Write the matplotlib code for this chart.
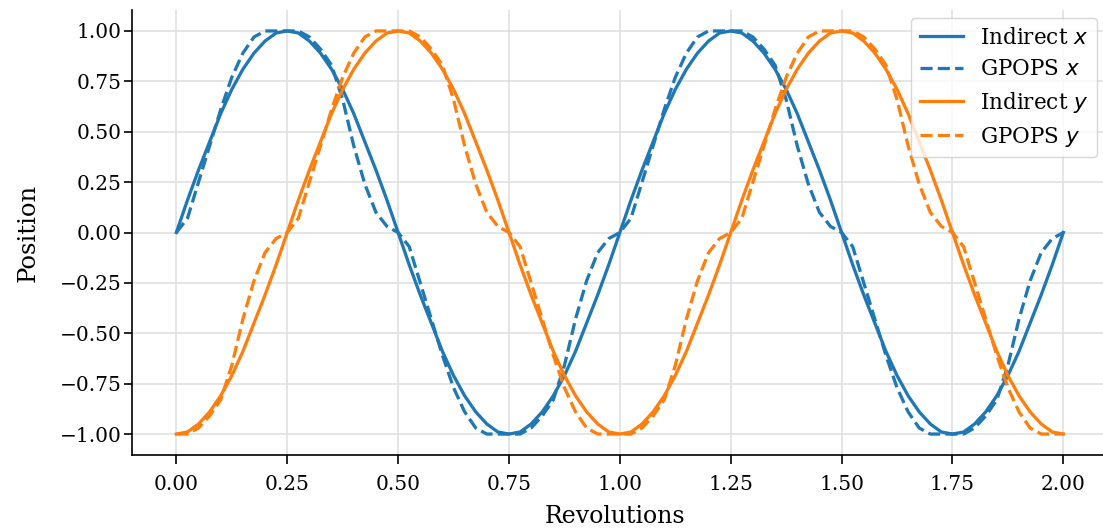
import numpy as np
import matplotlib
matplotlib.use("Agg")
import matplotlib.pyplot as plt

# Time samples (revolutions)
revolutions = [i / 40 for i in range(81)]

indirect_x = [
    0.00, 0.16, 0.31, 0.45, 0.59, 0.71, 0.81, 0.89, 0.95, 0.99,
    1.00, 0.99, 0.95, 0.89, 0.81, 0.71, 0.59, 0.45, 0.31, 0.16,
    0.00, -0.16, -0.31, -0.45, -0.59, -0.71, -0.81, -0.89, -0.95, -0.99,
    -1.00, -0.99, -0.95, -0.89, -0.81, -0.71, -0.59, -0.45, -0.31, -0.16,
    0.00, 0.16, 0.31, 0.45, 0.59, 0.71, 0.81, 0.89, 0.95, 0.99,
    1.00, 0.99, 0.95, 0.89, 0.81, 0.71, 0.59, 0.45, 0.31, 0.16,
    0.00, -0.16, -0.31, -0.45, -0.59, -0.71, -0.81, -0.89, -0.95, -0.99,
    -1.00, -0.99, -0.95, -0.89, -0.81, -0.71, -0.59, -0.45, -0.31, -0.16,
    0.00,
]

indirect_y = [
    -1.00, -0.99, -0.95, -0.89, -0.81, -0.71, -0.59, -0.45, -0.31, -0.16,
    0.00, 0.16, 0.31, 0.45, 0.59, 0.71, 0.81, 0.89, 0.95, 0.99,
    1.00, 0.99, 0.95, 0.89, 0.81, 0.71, 0.59, 0.45, 0.31, 0.16,
    0.00, -0.16, -0.31, -0.45, -0.59, -0.71, -0.81, -0.89, -0.95, -0.99,
    -1.00, -0.99, -0.95, -0.89, -0.81, -0.71, -0.59, -0.45, -0.31, -0.16,
    0.00, 0.16, 0.31, 0.45, 0.59, 0.71, 0.81, 0.89, 0.95, 0.99,
    1.00, 0.99, 0.95, 0.89, 0.81, 0.71, 0.59, 0.45, 0.31, 0.16,
    0.00, -0.16, -0.31, -0.45, -0.59, -0.71, -0.81, -0.89, -0.95, -0.99,
    -1.00,
]

gpops_x = [
    0.00, 0.07, 0.25, 0.43, 0.61, 0.77, 0.89, 0.97, 1.00, 1.00,
    1.00, 1.00, 0.97, 0.91, 0.83, 0.66, 0.43, 0.24, 0.10, 0.03,
    0.00, -0.07, -0.25, -0.43, -0.61, -0.77, -0.89, -0.97, -1.00, -1.00,
    -1.00, -1.00, -0.97, -0.91, -0.83, -0.66, -0.43, -0.24, -0.10, -0.03,
    0.00, 0.07, 0.25, 0.43, 0.61, 0.77, 0.89, 0.97, 1.00, 1.00,
    1.00, 1.00, 0.97, 0.91, 0.83, 0.66, 0.43, 0.24, 0.10, 0.03,
    0.00, -0.07, -0.25, -0.43, -0.61, -0.77, -0.89, -0.97, -1.00, -1.00,
    -1.00, -1.00, -0.97, -0.91, -0.83, -0.66, -0.43, -0.24, -0.10, -0.03,
    0.00,
]

gpops_y = [
    -1.00, -1.00, -0.97, -0.91, -0.83, -0.66, -0.43, -0.24, -0.10, -0.03,
    0.00, 0.07, 0.25, 0.43, 0.61, 0.77, 0.89, 0.97, 1.00, 1.00,
    1.00, 1.00, 0.97, 0.91, 0.83, 0.66, 0.43, 0.24, 0.10, 0.03,
    0.00, -0.07, -0.25, -0.43, -0.61, -0.77, -0.89, -0.97, -1.00, -1.00,
    -1.00, -1.00, -0.97, -0.91, -0.83, -0.66, -0.43, -0.24, -0.10, -0.03,
    0.00, 0.07, 0.25, 0.43, 0.61, 0.77, 0.89, 0.97, 1.00, 1.00,
    1.00, 1.00, 0.97, 0.91, 0.83, 0.66, 0.43, 0.24, 0.10, 0.03,
    0.00, -0.07, -0.25, -0.43, -0.61, -0.77, -0.89, -0.97, -1.00, -1.00,
    -1.00,
]

xticks = [0.00, 0.25, 0.50, 0.75, 1.00, 1.25, 1.50, 1.75, 2.00]
yticks = [-1.00, -0.75, -0.50, -0.25, 0.00, 0.25, 0.50, 0.75, 1.00]

plt.rcParams['font.family'] = ['DejaVu Serif']
plt.rcParams['font.size'] = 14.5
plt.rcParams['mathtext.fontset'] = 'dejavusans'

W, H = 1103, 531
fig = plt.figure(figsize=(W / 100, H / 100), dpi=100)
ax = fig.add_axes([132 / W, (H - 455.2) / H, 975.7 / W, 445.4 / H])

blue = '#1f77b4'
orange = '#ff7f0e'
lw = 2.35
ax.plot(revolutions, indirect_x, color=blue, lw=lw, label='Indirect $x$')
ax.plot(revolutions, gpops_x, color=blue, lw=lw, ls='--', label='GPOPS $x$')
ax.plot(revolutions, indirect_y, color=orange, lw=lw, label='Indirect $y$')
ax.plot(revolutions, gpops_y, color=orange, lw=lw, ls='--', label='GPOPS $y$')

ax.set_xlim(-0.1, 2.1)
ax.set_ylim(-1.105, 1.105)
ax.set_xticks(xticks)
ax.set_xticklabels([f'{v:.2f}' for v in xticks])
ax.set_yticks(yticks)
ax.set_yticklabels([f'{v:.2f}'.replace('-', '\u2212') for v in yticks])
ax.grid(True, color='#e0e0e0', lw=1.2)
ax.set_axisbelow(True)
for s in ['top', 'right']:
    ax.spines[s].set_visible(False)
for s in ['left', 'bottom']:
    ax.spines[s].set_linewidth(1.2)
ax.tick_params(axis='x', length=6.5, width=1.2, labelsize=14.5, pad=7.5)
ax.tick_params(axis='y', length=5.5, width=1.2, labelsize=14.5, pad=2)
ax.set_xlabel('Revolutions', fontsize=17, va='top')
ax.set_ylabel('Position', fontsize=17.5, va='bottom')
ax.xaxis.set_label_coords(0.4956, -0.112)
ax.yaxis.set_label_coords(-0.0943, 0.5)

ax.legend(loc='upper right', bbox_to_anchor=(1097 / W, 1 - 18 / H),
          bbox_transform=fig.transFigure, fontsize=15.5, framealpha=0.8,
          edgecolor='#cccccc', handlelength=2.0, borderaxespad=0,
          labelspacing=0.45)

fig.savefig('out.png', dpi=100)
